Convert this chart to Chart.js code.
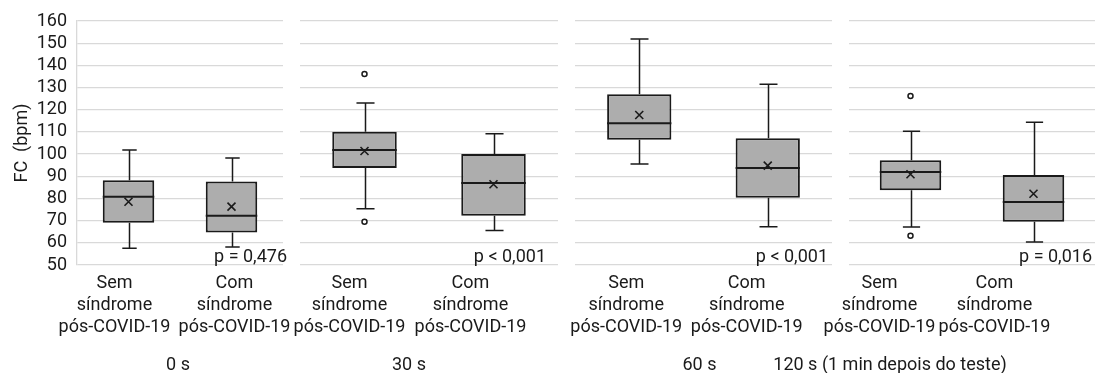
<!DOCTYPE html>
<html>
<head>
<meta charset="utf-8">
<script src="https://cdn.jsdelivr.net/npm/chart.js@4.4.1/dist/chart.umd.min.js"></script>
<style>
  body { margin: 0; background: #fff; }
  #wrap { position: relative; width: 1095px; height: 373px; overflow: hidden; }
  #wrap canvas { position: absolute; top: 0; left: 0; }
</style>
</head>
<body>
<div id="wrap">
  <canvas id="c0" width="1095" height="373"></canvas>
  <canvas id="c1" width="1095" height="373"></canvas>
  <canvas id="c2" width="1095" height="373"></canvas>
  <canvas id="c3" width="1095" height="373"></canvas>
</div>
<script>
// data (FC in bpm)
const groups = ['0 s', '30 s', '60 s', '120 s (1 min depois do teste)'];
const categories = [['Sem', 'síndrome', 'pós-COVID-19'], ['Com', 'síndrome', 'pós-COVID-19']];
const pValues = ['p = 0,476', 'p < 0,001', 'p < 0,001', 'p = 0,016'];
const yTicks = [50, 60, 70, 80, 90, 100, 110, 120, 130, 140, 150, 160];

const mins    = [[57.5, 58.1], [75.4, 65.5], [95.5, 67.3], [67.1, 60.4]];
const q1s     = [[69.1, 64.7], [93.7, 72.2], [106.5, 80.3], [83.7, 69.5]];
const medians = [[80.8, 72.2], [101.8, 87.0], [113.9, 93.7], [91.9, 78.4]];
const q3s     = [[88.2, 87.6], [110.1, 100.0], [127.0, 107.1], [97.2, 90.6]];
const maxs    = [[101.8, 98.2], [123.0, 109.2], [151.9, 131.5], [110.3, 114.3]];
const means   = [[78.5, 76.3], [101.4, 86.4], [117.6, 94.8], [90.9, 82.1]];
const outliers = [[[], []], [[136.1, 69.5], []], [[], []], [[126.2, 63.2], []]];

// layout only: panel edges and text nudges
const panelLeft = [0, 300, 575, 849];
const panelRight = [283, 558, 832, 1095];
const labelShift = [[-14, 3], [-15, -23], [-13, -21], [-31, -39]];
const titleShift = [-2, -20, -4, -82];
const pShift = [4, -12, -4, -3];

const FONT = 'Roboto, "Liberation Sans", sans-serif';
const INK = '#1a1a1a';
const W = 1095;

const boxExtras = {
  id: 'boxExtras',
  afterDatasetsDraw(chart, args, opts) {
    const g = opts.group;
    const y = chart.scales.y;
    const ctx = chart.ctx;
    const bars = chart.getDatasetMeta(0).data;
    ctx.save();
    ctx.strokeStyle = INK;
    bars.forEach((bar, i) => {
      const x = Math.round(bar.x) + 0.5;
      const half = bar.width / 2;
      const cap = bar.width * 0.14;
      ctx.lineWidth = 1.5;
      ctx.beginPath();
      ctx.moveTo(x, y.getPixelForValue(q3s[g][i]));
      ctx.lineTo(x, y.getPixelForValue(maxs[g][i]));
      ctx.moveTo(x - cap, y.getPixelForValue(maxs[g][i]));
      ctx.lineTo(x + cap, y.getPixelForValue(maxs[g][i]));
      ctx.moveTo(x, y.getPixelForValue(q1s[g][i]));
      ctx.lineTo(x, y.getPixelForValue(mins[g][i]));
      ctx.moveTo(x - cap, y.getPixelForValue(mins[g][i]));
      ctx.lineTo(x + cap, y.getPixelForValue(mins[g][i]));
      ctx.stroke();
      // median
      ctx.lineWidth = 2;
      ctx.beginPath();
      const ym = y.getPixelForValue(medians[g][i]);
      ctx.moveTo(bar.x - half, ym);
      ctx.lineTo(bar.x + half, ym);
      ctx.stroke();
      // mean marker
      const yy = y.getPixelForValue(means[g][i]);
      ctx.lineWidth = 1.6;
      ctx.beginPath();
      ctx.moveTo(bar.x - 4, yy - 4);
      ctx.lineTo(bar.x + 4, yy + 4);
      ctx.moveTo(bar.x + 4, yy - 4);
      ctx.lineTo(bar.x - 4, yy + 4);
      ctx.stroke();
      // outliers
      ctx.lineWidth = 1.5;
      outliers[g][i].forEach(v => {
        ctx.beginPath();
        ctx.arc(bar.x, y.getPixelForValue(v), 2.5, 0, Math.PI * 2);
        ctx.fillStyle = '#ffffff';
        ctx.fill();
        ctx.stroke();
      });
    });
    ctx.restore();
  },
  afterDraw(chart, args, opts) {
    const g = opts.group;
    const ctx = chart.ctx;
    const area = chart.chartArea;
    const x = chart.scales.x;
    ctx.save();
    ctx.fillStyle = INK;
    ctx.font = '18px ' + FONT;
    ctx.textAlign = 'center';
    ctx.textBaseline = 'middle';
    categories.forEach((lines, i) => {
      const cx = x.getPixelForValue(i) + labelShift[g][i];
      lines.forEach((t, k) => ctx.fillText(t, cx, area.bottom + 18 + k * 22));
    });
    ctx.fillText(groups[g], (area.left + area.right) / 2 + titleShift[g], area.bottom + 100);
    ctx.textAlign = 'right';
    ctx.textBaseline = 'alphabetic';
    ctx.fillText(pValues[g], area.right + pShift[g], area.bottom - 3);
    ctx.restore();
  }
};

function makePanel(g) {
  const first = g === 0;
  new Chart(document.getElementById('c' + g), {
    type: 'bar',
    data: {
      labels: categories.map(c => c.join(' ')),
      datasets: [{
        data: q1s[g].map((q, i) => [q, q3s[g][i]]),
        backgroundColor: '#adadad',
        borderColor: INK,
        borderWidth: 2,
        borderSkipped: false,
        barPercentage: 0.5,
        categoryPercentage: 1
      }]
    },
    options: {
      responsive: false,
      animation: false,
      layout: { padding: { top: 21, bottom: 0, left: first ? 0 : panelLeft[g], right: W - panelRight[g] } },
      scales: {
        x: {
          ticks: { display: false },
          grid: { display: false },
          border: { display: false },
          afterFit: s => { s.height = 108; }
        },
        y: {
          min: 50,
          max: 160,
          afterBuildTicks: s => { s.ticks = yTicks.map(v => ({ value: v })); },
          ticks: {
            display: first,
            autoSkip: false,
            padding: 10,
            color: INK,
            font: { family: FONT, size: 18 }
          },
          grid: { color: '#d9d9d9', lineWidth: 1.3, drawTicks: false },
          border: { display: first, color: '#d9d9d9', width: 1.3 },
          title: {
            display: first,
            text: 'FC  (bpm)',
            color: INK,
            font: { family: FONT, size: 18 },
            padding: { top: 12, bottom: 0 }
          },
          afterFit: s => { s.width = first ? 77 : 0; }
        }
      },
      plugins: {
        legend: { display: false },
        tooltip: { enabled: false },
        boxExtras: { group: g }
      }
    },
    plugins: [boxExtras]
  });
}

groups.forEach((_, g) => makePanel(g));
</script>
</body>
</html>
